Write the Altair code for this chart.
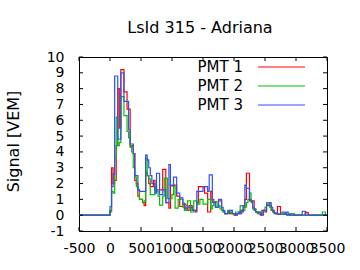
import altair as alt
import pandas as pd

# ---------------- data ----------------
series_names = ["PMT 1", "PMT 2", "PMT 3"]
series_colors = ["#ff0000", "#00c000", "#3050f8"]
bin_ns = 25          # trace bin width (ns)
pre_start = -500     # start of flat pre-trace baseline (ns)

pmt1 = [0.3, 3.0, 2.0, 2.2, 4.4, 8.0, 5.5, 9.2, 9.2, 7.8,
        7.8, 6.7, 6.7, 4.3, 4.4, 3.9, 2.2, 2.0, 1.2, 1.0,
        1.0, 0.8, 0.6, 2.7, 2.5, 2.0, 1.8, 1.8, 2.2, 1.6,
        1.6, 1.6, 1.6, 1.6, 2.9, 2.9, 0.8, 0.8, 0.45, 1.9,
        1.9, 1.9, 1.9, 1.2, 1.2, 0.55, 0.55, 0.7, 0.7, 0.3,
        0.3, 0.6, 0.6, 0.3, 0.3, 0.2, 0.8, 1.8, 1.8, 1.8,
        1.8, 1.4, 1.4, 0.2, 0.2, 1.5, 1.0, 0.8, 0.5, 0.5,
        0.9, 0.9, 0.3, 0.2, 0.1, 0.1, 0.2, 0.1, 0.2, 0.1,
        0.0, 0.0, 0.1, 0.1, 0.3, 0.2, 0.5, 1.0, 2.65, 2.65,
        0.9, 0.9, 0.9, 0.4, 0.2, 0.2, 0.1, 0.0, 0.3, 0.3,
        0.2, 0.6, 0.6, 0.6, 0.3, 0.2, 0.1, 0.1, 0.55, 0.55,
        0.05, 0.05, 0.05, 0.05, 0.0, 0.0, 0.0, 0.0, 0.0, 0.0,
        0.0, 0.0, 0.0, 0.0, 0.0, 0.0, 0.2, 0.15, 0.0, 0.0,
        0.0, 0.0, 0.0, 0.0, 0.0, 0.0, 0.0, 0.0, 0.0, 0.0]

pmt2 = [0.2, 1.5, 1.4, 3.6, 6.2, 4.4, 4.6, 7.5, 7.5, 6.3,
        6.3, 5.3, 4.9, 4.4, 4.0, 3.0, 2.4, 1.8, 1.6, 1.0,
        1.0, 0.8, 0.9, 3.6, 2.5, 2.3, 1.3, 1.3, 1.3, 1.8,
        1.5, 1.2, 0.64, 0.64, 1.2, 2.34, 2.34, 1.05, 1.05, 1.05,
        1.3, 1.8, 0.45, 0.45, 1.0, 1.0, 1.0, 0.5, 0.3, 0.3,
        0.9, 0.9, 0.2, 0.2, 0.9, 0.9, 0.7, 0.7, 1.0, 1.0,
        0.7, 0.7, 0.7, 1.0, 1.0, 0.4, 0.6, 0.86, 0.86, 0.5,
        0.6, 0.4, 0.3, 0.2, 0.1, 0.1, 0.3, 0.2, 0.1, 0.1,
        0.1, 0.2, 0.2, 0.1, 0.6, 0.6, 0.3, 0.5, 0.8, 1.0,
        1.4, 0.8, 0.4, 0.4, 0.2, 0.1, 0.1, 0.2, 0.2, 0.3,
        0.5, 0.8, 0.8, 0.5, 0.3, 0.2, 0.15, 0.1, 0.1, 0.05,
        0.05, 0.05, 0.15, 0.05, 0.0, 0.0, 0.1, 0.1, 0.1, 0.0,
        0.0, 0.0, 0.0, 0.0, 0.0, 0.0, 0.0, 0.0, 0.0, 0.0,
        0.0, 0.0, 0.0, 0.0, 0.0, 0.0, 0.0, 0.2, 0.2, 0.0]

pmt3 = [0.55, 1.8, 2.6, 8.8, 8.8, 4.8, 4.8, 9.0, 9.0, 7.2,
        7.2, 7.2, 5.4, 4.5, 4.5, 3.9, 2.5, 2.5, 1.6, 1.5,
        1.5, 1.5, 1.5, 3.8, 3.5, 3.0, 2.5, 2.0, 2.0, 1.4,
        2.65, 2.65, 1.3, 1.3, 1.6, 1.6, 0.8, 0.8, 3.2, 1.85,
        1.85, 2.4, 2.4, 1.4, 1.4, 1.1, 1.1, 0.77, 0.45, 0.45,
        0.5, 0.5, 0.5, 0.3, 0.3, 0.3, 1.5, 1.5, 1.5, 1.5,
        1.8, 1.8, 1.8, 1.5, 2.55, 2.55, 0.8, 0.8, 0.5, 0.5,
        1.0, 1.0, 0.5, 0.3, 0.1, 0.1, 0.2, 0.3, 0.3, 0.1,
        0.1, 0.0, 0.1, 0.2, 0.1, 0.3, 0.6, 1.9, 1.7, 1.7,
        1.0, 0.9, 0.5, 0.3, 0.2, 0.2, 0.2, 0.1, 0.0, 0.3,
        0.3, 0.7, 0.7, 0.8, 0.5, 0.3, 0.15, 0.1, 0.05, 0.05,
        0.05, 0.2, 0.2, 0.05, 0.2, 0.05, 0.0, 0.0, 0.0, 0.0,
        0.0, 0.0, 0.0, 0.0, 0.25, 0.25, 0.0, 0.0, 0.0, 0.0,
        0.0, 0.0, 0.0, 0.0, 0.0, 0.0, 0.0, 0.0, 0.0, 0.0]

x_ticks = [-500, 0, 500, 1000, 1500, 2000, 2500, 3000, 3500]
y_ticks = [-1, 0, 1, 2, 3, 4, 5, 6, 7, 8, 9, 10]
title_text = "LsId 315 - Adriana"
y_title = "Signal [VEM]"

# ---------------- layout ----------------
W, H = 248, 174
FONT = "DejaVu Sans"
TICK = 4


def trace_df(vals):
    t = [pre_start] + [i * bin_ns for i in range(len(vals))] + [len(vals) * bin_ns]
    v = [0.0] + list(vals) + [vals[-1]]
    return pd.DataFrame({"t": t, "v": v})


xscale = alt.Scale(domain=[x_ticks[0], x_ticks[-1]], nice=False, zero=False)
yscale = alt.Scale(domain=[y_ticks[0], y_ticks[-1]], nice=False, zero=False)

xaxis = alt.Axis(values=x_ticks, title=None, labelExpr="'' + datum.value",
                 ticks=False, domain=False, grid=False, labelFontSize=14,
                 labelFont=FONT, labelColor="black", labelPadding=10,
                 labelOverlap=False, labelFlush=False, labelBound=False)
yaxis = alt.Axis(values=y_ticks, title=y_title, labelExpr="'' + datum.value",
                 ticks=False, domain=False, grid=False, labelFontSize=14,
                 labelFont=FONT, labelColor="black", labelPadding=15,
                 labelOverlap=False, labelFlush=False, labelBound=False,
                 titleFont=FONT, titleFontSize=16, titleFontWeight="normal",
                 titleColor="black", titleX=-66, titleY=84, titleAngle=-90,
                 titleAlign="center", titleBaseline="middle")

X = alt.X("t:Q", scale=xscale, axis=xaxis)
Y = alt.Y("v:Q", scale=yscale, axis=yaxis)

layers = []
for vals, col in zip([pmt1, pmt2, pmt3], series_colors):
    layers.append(
        alt.Chart(trace_df(vals)).mark_line(
            interpolate="step-after", color=col, strokeWidth=1.2
        ).encode(x=X, y=Y)
    )

xt = pd.DataFrame({"t": x_ticks})
yt = pd.DataFrame({"v": y_ticks})
tick_layers = [
    alt.Chart(xt).mark_rule(color="black").encode(
        x=X, y=alt.value(H), y2=alt.value(H - TICK)),
    alt.Chart(xt).mark_rule(color="black").encode(
        x=X, y=alt.value(0), y2=alt.value(TICK)),
    alt.Chart(yt).mark_rule(color="black").encode(
        y=Y, x=alt.value(0), x2=alt.value(TICK)),
    alt.Chart(yt).mark_rule(color="black").encode(
        y=Y, x=alt.value(W), x2=alt.value(W - TICK)),
]

legend_layers = []
for k, (name, col) in enumerate(zip(series_names, series_colors)):
    d = pd.DataFrame({"name": [name]})
    yk = 10 + 19 * k
    legend_layers.append(
        alt.Chart(d).mark_text(align="right", baseline="middle", fontSize=15,
                               font=FONT, color="black").encode(
            text="name:N", x=alt.value(164), y=alt.value(yk)))
    legend_layers.append(
        alt.Chart(d).mark_rule(color=col, strokeWidth=1.2).encode(
            x=alt.value(179), x2=alt.value(226), y=alt.value(yk)))

# chart title drawn as a text mark above the plot frame
title_layer = alt.Chart(pd.DataFrame({"title": [title_text]})).mark_text(
    align="center", baseline="alphabetic", fontSize=16, font=FONT, color="black"
).encode(text="title:N", x=alt.value(W / 2 - 3), y=alt.value(-24))

chart = alt.layer(*layers, *tick_layers, *legend_layers, title_layer).properties(
    width=W, height=H,
    padding={"left": 79, "top": 57, "right": 33, "bottom": 39},
    autosize=alt.AutoSizeParams(type="none"),
    background="white",
).configure_view(stroke="black", strokeWidth=1)

chart.save("out.html", embed_options={"renderer": "svg", "actions": False})
